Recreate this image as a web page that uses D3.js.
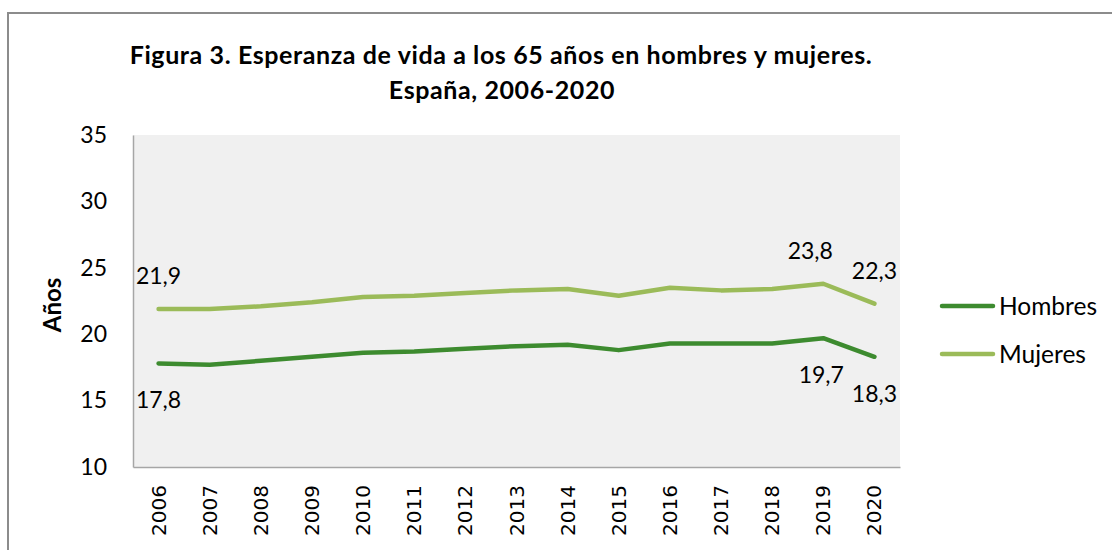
<!DOCTYPE html>
<html lang="es">
  <head>
    <meta charset="utf-8" />
    <title>Esperanza de vida a los 65 años</title>
    <script src="https://cdnjs.cloudflare.com/ajax/libs/d3/7.8.5/d3.min.js"></script>
    <style>
      body {
        margin: 0;
        background: #fff;
      }
      #chart text {
        font-family: Lato, "Open Sans", sans-serif;
        fill: #000;
      }
      #chart .xlab text {
        font-family: "DejaVu Sans", sans-serif;
      }
    </style>
  </head>
  <body>
    <svg id="chart" width="1112" height="550"></svg>
    <script>
      // data
      const years = ["2006", "2007", "2008", "2009", "2010", "2011", "2012", "2013", "2014", "2015", "2016", "2017", "2018", "2019", "2020"];
      const hombres = [17.8, 17.7, 18.0, 18.3, 18.6, 18.7, 18.9, 19.1, 19.2, 18.8, 19.3, 19.3, 19.3, 19.7, 18.3];
      const mujeres = [21.9, 21.9, 22.1, 22.4, 22.8, 22.9, 23.1, 23.3, 23.4, 22.9, 23.5, 23.3, 23.4, 23.8, 22.3];
      const yTicks = [10, 15, 20, 25, 30, 35];
      // which points get a value label
      const labelYears = ["2006", "2019", "2020"];

      const svg = d3.select("#chart");
      const margin = { left: 133, right: 900, top: 135, bottom: 467 };

      const x = d3.scaleBand().domain(years).range([margin.left, margin.right]);
      const y = d3.scaleLinear().domain([10, 35]).range([margin.bottom, margin.top]);
      const cx = (d) => x(d) + x.bandwidth() / 2;

      // outer frame
      svg
        .append("rect")
        .attr("x", 8)
        .attr("y", 13)
        .attr("width", 1200)
        .attr("height", 600)
        .attr("fill", "none")
        .attr("stroke", "#8c8c8c")
        .attr("stroke-width", 2);

      // plot background
      svg
        .append("rect")
        .attr("x", margin.left)
        .attr("y", margin.top)
        .attr("width", margin.right - margin.left)
        .attr("height", margin.bottom - margin.top)
        .attr("fill", "#f0f0f0");

      // title
      const title = svg
        .append("text")
        .attr("text-anchor", "middle")
        .style("font-weight", "bold")
        .style("font-size", "25px")
        .style("letter-spacing", "0.6px");
      title.append("tspan").attr("x", 501).attr("y", 64).text("Figura 3. Esperanza de vida a los 65 años en hombres y mujeres.");
      title.append("tspan").attr("x", 502).attr("y", 99).text("España, 2006-2020");

      // y axis
      svg
        .append("g")
        .attr("transform", `translate(${margin.left},0)`)
        .call(d3.axisLeft(y).tickValues(yTicks).tickSize(0).tickPadding(26))
        .call((g) => g.select(".domain").attr("stroke", "#a6a6a6").attr("stroke-width", 1.5))
        .call((g) => g.selectAll(".tick text").style("font-size", "23px"));

      svg
        .append("text")
        .attr("transform", "translate(61,305) rotate(-90)")
        .attr("text-anchor", "middle")
        .style("font-weight", "bold")
        .style("font-size", "24px")
        .text("Años");

      // x axis
      svg
        .append("g")
        .attr("class", "xlab")
        .attr("transform", `translate(0,${margin.bottom})`)
        .call(d3.axisBottom(x).tickSize(0))
        .call((g) => g.select(".domain").attr("stroke", "#a6a6a6").attr("stroke-width", 1.5))
        .call((g) =>
          g
            .selectAll(".tick text")
            .style("font-size", "20px")
            .attr("transform", "rotate(-90)")
            .attr("text-anchor", "end")
            .attr("x", -18)
            .attr("y", 0)
            .attr("dy", "0.35em")
        );

      // lines
      const series = [
        { name: "Hombres", values: hombres, color: "#3d8b2f" },
        { name: "Mujeres", values: mujeres, color: "#9bbb59" },
      ];
      const line = d3
        .line()
        .x((d, i) => cx(years[i]))
        .y((d) => y(d));

      series.forEach((s) => {
        svg
          .append("path")
          .attr("d", line(s.values))
          .attr("fill", "none")
          .attr("stroke", s.color)
          .attr("stroke-width", 4.5)
          .attr("stroke-linecap", "round")
          .attr("stroke-linejoin", "round");
      });

      // value labels: mujeres above, hombres below
      const fmt = (v) => v.toFixed(1).replace(".", ",");
      labelYears.forEach((yr) => {
        const i = years.indexOf(yr);
        const dx = yr === "2019" ? -13 : 0;
        svg
          .append("text")
          .attr("x", cx(yr) + dx)
          .attr("y", y(mujeres[i]) - 33)
          .attr("text-anchor", "middle")
          .attr("dy", "0.35em")
          .style("font-size", "23px")
          .text(fmt(mujeres[i]));
        svg
          .append("text")
          .attr("x", cx(yr) + (yr === "2019" ? -2 : 0))
          .attr("y", y(hombres[i]) + 37)
          .attr("text-anchor", "middle")
          .attr("dy", "0.35em")
          .style("font-size", "23px")
          .text(fmt(hombres[i]));
      });

      // legend
      const legend = svg.append("g").attr("transform", "translate(940,306)");
      series.forEach((s, i) => {
        const row = legend.append("g").attr("transform", `translate(0,${i * 48})`);
        row
          .append("line")
          .attr("x1", 2)
          .attr("x2", 53)
          .attr("stroke", s.color)
          .attr("stroke-width", 4.5)
          .attr("stroke-linecap", "round");
        row
          .append("text")
          .attr("x", 59)
          .attr("dy", "0.35em")
          .style("font-size", "24.5px")
          .text(s.name);
      });
    </script>
  </body>
</html>
